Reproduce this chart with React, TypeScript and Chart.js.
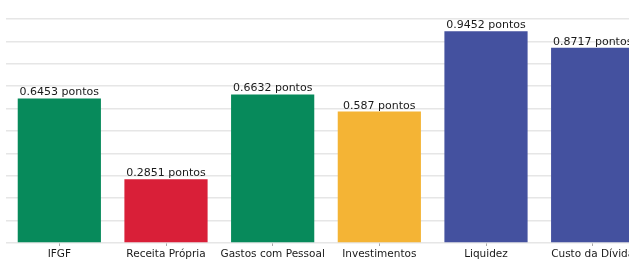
import React, { useEffect, useRef } from "react";
import { Chart, registerables } from "chart.js";

Chart.register(...registerables);

const categories = ["IFGF", "Receita Própria", "Gastos com Pessoal", "Investimentos", "Liquidez", "Custo da Dívida"];
const values = [0.6453, 0.2851, 0.6632, 0.587, 0.9452, 0.8717];
const barColors = ["#078a5b", "#d91f38", "#078a5b", "#f4b435", "#44519f", "#44519f"];
const valueLabels = ["0.6453 pontos", "0.2851 pontos", "0.6632 pontos", "0.587 pontos", "0.9452 pontos", "0.8717 pontos"];

const labelPlugin = {
  id: "valueLabels",
  afterDatasetsDraw(chart: any) {
    const ctx = chart.ctx;
    const meta = chart.getDatasetMeta(0);
    ctx.save();
    ctx.font = "11px 'DejaVu Sans'";
    ctx.fillStyle = "#1a1a1a";
    ctx.textAlign = "center";
    ctx.textBaseline = "alphabetic";
    meta.data.forEach((el: any, i: number) => {
      ctx.fillText(valueLabels[i], el.x, el.y - 3);
    });
    ctx.restore();
  },
};

export default function App() {
  const ref = useRef<HTMLCanvasElement>(null);
  useEffect(() => {
    if (!ref.current) return;
    const chart = new Chart(ref.current, {
      type: "bar",
      data: {
        labels: categories,
        datasets: [
          {
            data: values,
            backgroundColor: barColors,
            borderWidth: 0,
            barPercentage: 0.78,
            categoryPercentage: 1,
          },
        ],
      },
      options: {
        animation: false,
        responsive: false,
        maintainAspectRatio: false,
        layout: { padding: { top: 11, left: 0, right: 0, bottom: 0 } },
        plugins: { legend: { display: false }, tooltip: { enabled: false } },
        scales: {
          x: {
            grid: { offset: false, drawOnChartArea: false, drawTicks: true, tickLength: 3, color: "#aaa" },
            border: { display: false },
            ticks: {
              font: { family: "'DejaVu Sans'", size: 10.5 },
              color: "#1a1a1a",
              padding: 2,
              maxRotation: 0,
              autoSkip: false,
            },
            afterFit(scale: any) {
              scale.height = 16;
            },
          },
          y: {
            min: 0,
            max: 1,
            ticks: { display: false, stepSize: 0.1 },
            grid: { color: "#e6e6e6", lineWidth: 1.5, drawTicks: false },
            border: { display: false },
            afterFit(scale: any) {
              scale.width = 0;
            },
          },
        },
      },
      plugins: [labelPlugin],
    });
    return () => chart.destroy();
  }, []);
  return (
    <div style={{ position: "fixed", left: 6, top: 8, width: 623, height: 251, overflow: "hidden" }}>
      <canvas ref={ref} width={640} height={251} style={{ display: "block", width: 640, height: 251 }} />
    </div>
  );
}
